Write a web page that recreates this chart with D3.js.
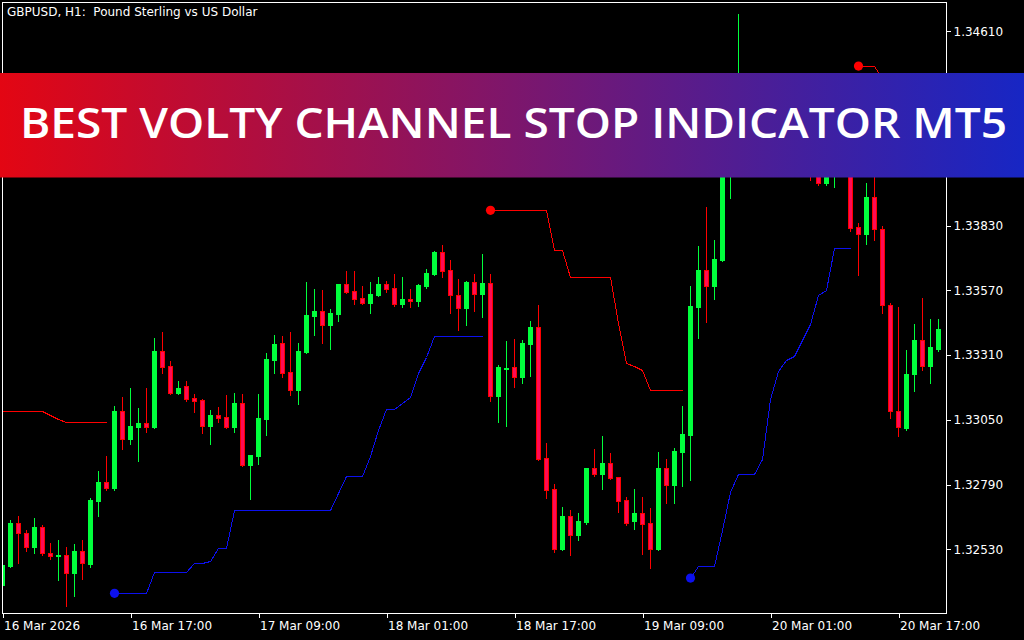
<!DOCTYPE html>
<html><head><meta charset="utf-8">
<script src="https://cdn.jsdelivr.net/npm/d3@7"></script>
<style>
html,body{margin:0;padding:0;background:#000;overflow:hidden}
svg{display:block}
</style></head><body>
<svg id="chart" width="1024" height="640"></svg>
<script>
// ---------------- DATA ----------------
const symbolTitle = "GBPUSD, H1:  Pound Sterling vs US Dollar";
const bannerTitle = "BEST VOLTY CHANNEL STOP INDICATOR MT5";

const opens = [
1.32387,1.32463,1.32636,1.32596,1.32540,1.32620,1.32515,1.32505,1.32507,1.32435,
1.32523,1.32471,1.32724,1.32800,1.32776,1.33085,1.32973,1.33021,1.33037,1.33021,
1.33326,1.33266,1.33158,1.33186,1.33137,1.33129,1.33025,1.33069,1.33061,1.33021,
1.33117,1.32869,1.32905,1.33053,1.33290,1.33358,1.33242,1.33170,1.33322,1.33466,
1.33487,1.33430,1.33474,1.33595,1.33567,1.33539,1.33519,1.33551,1.33595,1.33579,
1.33515,1.33535,1.33527,1.33587,1.33635,1.33723,1.33651,1.33551,1.33499,1.33603,
1.33555,1.33599,1.33145,1.33256,1.33262,1.33222,1.33354,1.33422,1.32897,1.32772,
1.32531,1.32664,1.32588,1.32640,1.32856,1.32832,1.32877,1.32820,1.32728,1.32644,
1.32676,1.32636,1.32531,1.32856,1.32788,1.32921,1.32989,1.33503,1.33651,1.33587,
1.33691,1.34133,1.34253,1.34353,1.34270,1.34330,1.34230,1.34290,1.34380,1.34260,
1.34320,1.34190,1.34093,1.34000,1.34120,1.34250,1.34170,1.33824,1.33796,1.33946,
1.33816,1.33513,1.33085,1.33017,1.33234,1.33370,1.33266,1.33334];
const highs = [
1.32487,1.32648,1.32664,1.32608,1.32656,1.32628,1.32556,1.32568,1.32540,1.32552,
1.32568,1.32736,1.32845,1.32905,1.33105,1.33141,1.33178,1.33097,1.33178,1.33378,
1.33402,1.33286,1.33206,1.33206,1.33154,1.33132,1.33089,1.33101,1.33149,1.33158,
1.33154,1.32911,1.33154,1.33318,1.33390,1.33386,1.33402,1.33358,1.33603,1.33575,
1.33571,1.33495,1.33597,1.33647,1.33647,1.33587,1.33603,1.33623,1.33607,1.33635,
1.33623,1.33575,1.33595,1.33655,1.33727,1.33751,1.33691,1.33615,1.33607,1.33635,
1.33715,1.33635,1.33270,1.33366,1.33374,1.33370,1.33446,1.33511,1.32957,1.32792,
1.32700,1.32688,1.32676,1.32858,1.32933,1.32985,1.32917,1.32822,1.32740,1.32772,
1.32740,1.32696,1.32921,1.32893,1.32937,1.33105,1.33587,1.33747,1.33904,1.33771,
1.34173,1.34333,1.34678,1.34400,1.34380,1.34390,1.34310,1.34420,1.34425,1.34350,
1.34370,1.34260,1.34150,1.34180,1.34300,1.34330,1.34200,1.33840,1.34000,1.34052,
1.33828,1.33519,1.33503,1.33330,1.33434,1.33539,1.33455,1.33455];
const lows = [
1.32367,1.32459,1.32475,1.32523,1.32515,1.32507,1.32491,1.32407,1.32303,1.32343,
1.32411,1.32459,1.32664,1.32768,1.32768,1.32933,1.32953,1.32885,1.33001,1.33017,
1.33238,1.33155,1.33155,1.33125,1.33081,1.32997,1.32953,1.33041,1.33017,1.33001,
1.32864,1.32732,1.32873,1.32989,1.33238,1.33222,1.33150,1.33113,1.33318,1.33390,
1.33358,1.33334,1.33446,1.33559,1.33515,1.33515,1.33478,1.33549,1.33563,1.33507,
1.33503,1.33503,1.33507,1.33579,1.33633,1.33623,1.33478,1.33410,1.33430,1.33487,
1.33462,1.33125,1.33041,1.33025,1.33182,1.33198,1.33226,1.32889,1.32736,1.32519,
1.32527,1.32507,1.32568,1.32632,1.32824,1.32772,1.32812,1.32680,1.32628,1.32612,
1.32511,1.32455,1.32527,1.32716,1.32716,1.32784,1.32808,1.33378,1.33442,1.33535,
1.33687,1.33940,1.34173,1.34230,1.34210,1.34180,1.34170,1.34250,1.34220,1.34160,
1.34150,1.34012,1.33992,1.33994,1.33984,1.34110,1.33810,1.33631,1.33755,1.33772,
1.33477,1.33057,1.32985,1.33009,1.33166,1.33250,1.33198,1.33326];
const closes = [
1.32467,1.32636,1.32596,1.32540,1.32620,1.32515,1.32503,1.32509,1.32435,1.32523,
1.32475,1.32728,1.32800,1.32776,1.33085,1.32973,1.33025,1.33037,1.33021,1.33326,
1.33262,1.33158,1.33178,1.33133,1.33125,1.33025,1.33069,1.33057,1.33021,1.33117,
1.32869,1.32909,1.33057,1.33294,1.33354,1.33238,1.33170,1.33326,1.33470,1.33487,
1.33430,1.33478,1.33595,1.33563,1.33535,1.33519,1.33555,1.33595,1.33575,1.33515,
1.33535,1.33527,1.33591,1.33639,1.33723,1.33647,1.33551,1.33499,1.33603,1.33555,
1.33599,1.33145,1.33262,1.33258,1.33222,1.33358,1.33422,1.32893,1.32768,1.32531,
1.32664,1.32588,1.32644,1.32856,1.32832,1.32877,1.32816,1.32724,1.32636,1.32676,
1.32632,1.32531,1.32856,1.32788,1.32925,1.32993,1.33507,1.33651,1.33587,1.33695,
1.34133,1.34253,1.34353,1.34270,1.34330,1.34230,1.34290,1.34380,1.34260,1.34320,
1.34190,1.34093,1.34000,1.34120,1.34250,1.34170,1.33820,1.33796,1.33944,1.33816,
1.33513,1.33085,1.33021,1.33234,1.33370,1.33266,1.33342,1.33414];

// Volty Channel Stop level per bar
const stopLevel = [
1.33085,1.33085,1.33085,1.33085,1.33085,1.33085,1.33069,1.33053,1.33041,1.33041,
1.33041,1.33041,1.33041,1.33041,1.32354,1.32354,1.32354,1.32354,1.32354,1.32438,
1.32438,1.32438,1.32438,1.32438,1.32474,1.32474,1.32483,1.32534,1.32534,1.32687,
1.32687,1.32687,1.32687,1.32687,1.32687,1.32687,1.32687,1.32687,1.32687,1.32687,
1.32687,1.32687,1.32756,1.32823,1.32823,1.32823,1.32905,1.33009,1.33095,1.33095,
1.33117,1.33141,1.33238,1.33302,1.33385,1.33385,1.33385,1.33385,1.33385,1.33385,
1.33385,1.33891,1.33891,1.33891,1.33891,1.33891,1.33891,1.33891,1.33891,1.33730,
1.33730,1.33622,1.33622,1.33622,1.33622,1.33622,1.33622,1.33438,1.33277,1.33267,
1.33251,1.33170,1.33170,1.33170,1.33170,1.33170,1.32415,1.32465,1.32465,1.32465,
1.32608,1.32760,1.32832,1.32832,1.32832,1.32894,1.33133,1.33246,1.33290,1.33306,
1.33370,1.33434,1.33552,1.33571,1.33741,1.33741,1.33741,1.34470,1.34470,1.34470,
1.34422,1.34333,1.34273,1.34233,1.34193,1.34173,1.34153,1.34133];
// trend segments of the stop line
const segStart = [0, 14, 61, 86, 107];
const segEnd   = [13, 60, 85, 106, 117];
const segSide  = ["down", "up", "down", "up", "down"];
const segDot   = [false, true, true, true, true];

const timeTickBars   = [0, 16, 32, 48, 64, 80, 96, 112];
const timeTickLabels = ["16 Mar 2026","16 Mar 17:00","17 Mar 09:00","18 Mar 01:00",
                        "18 Mar 17:00","19 Mar 09:00","20 Mar 01:00","20 Mar 17:00"];
const priceTicks = [1.32530,1.32790,1.33050,1.33310,1.33570,1.33830,1.34090,1.34350,1.34610];

// ---------------- DRAW ----------------
const svg = d3.select("#chart");
svg.append("rect").attr("width",1024).attr("height",640).attr("fill","#000");

const L = 2.5, R = 946.5, T = 2.5, B = 613.5;
const nBars = opens.length;
const x = d3.scaleLinear().domain([0, 118]).range([2.5, 946.5]);
const y = d3.scaleLinear().domain([1.32275, 1.34723]).range([613, 3]);

const GREEN = "#00ff3c", RED = "#ff0000", REDFILL = "#ff0a55", BLUE = "#0c10ee";

svg.append("defs").append("clipPath").attr("id","plotclip")
  .append("rect").attr("x",3).attr("y",3).attr("width",R-3).attr("height",B-3);

const plot = svg.append("g").attr("clip-path","url(#plotclip)");

// stop lines
const lineGen = d3.line().x(i => x(i)).y(i => Math.round(y(stopLevel[i])) + 0.5);
segStart.forEach((s, j) => {
  const idx = d3.range(s, segEnd[j] + 1);
  plot.append("path").attr("d", lineGen(idx))
    .attr("fill","none").attr("stroke", segSide[j] === "up" ? BLUE : RED)
    .attr("stroke-width",1).attr("shape-rendering","crispEdges");
});
segStart.forEach((s, j) => {
  if (!segDot[j]) return;
  plot.append("circle").attr("cx", x(s)).attr("cy", y(stopLevel[s])).attr("r", 4.6)
    .attr("fill", segSide[j] === "up" ? BLUE : RED);
});

// candles
const bars = d3.range(nBars);
const cg = plot.append("g").attr("shape-rendering","crispEdges");
cg.selectAll("line.wick").data(bars).join("line").attr("class","wick")
  .attr("x1", i => x(i)).attr("x2", i => x(i))
  .attr("y1", i => Math.round(y(highs[i]))).attr("y2", i => Math.round(y(lows[i])) + 1)
  .attr("stroke", i => closes[i] >= opens[i] ? GREEN : RED).attr("stroke-width",1);
bars.forEach(i => {
  const up = closes[i] >= opens[i];
  const top = Math.round(y(Math.max(opens[i], closes[i])));
  const bot = Math.round(y(Math.min(opens[i], closes[i])));
  if (up) {
    cg.append("rect").attr("x", x(i) - 2.5).attr("y", top)
      .attr("width", 5).attr("height", Math.max(1, bot - top + 1)).attr("fill", GREEN);
  } else {
    cg.append("rect").attr("x", x(i) - 2).attr("y", top + 0.5)
      .attr("width", 4).attr("height", Math.max(0, bot - top))
      .attr("fill", REDFILL).attr("stroke", RED).attr("stroke-width",1);
  }
});

// frame
svg.append("path").attr("d", `M${R},${B} L${L},${B} L${L},${T} L${R},${T} Z`)
  .attr("fill","none").attr("stroke","#fff").attr("stroke-width",1)
  .attr("shape-rendering","crispEdges");

// price axis
const yAxis = d3.axisRight(y).tickValues(priceTicks).tickSize(4).tickPadding(3)
  .tickFormat(d3.format(".5f"));
const yg = svg.append("g").attr("transform", `translate(${R},0)`).call(yAxis);
yg.select(".domain").remove();
yg.selectAll("line").attr("stroke","#fff").attr("shape-rendering","crispEdges");
yg.selectAll("text").attr("fill","#fff").style("font-family","'DejaVu Sans'").style("font-size","12px");

// time axis
const xAxis = d3.axisBottom(x).tickValues(timeTickBars).tickSize(4).tickPadding(4)
  .tickFormat((d, i) => timeTickLabels[i]);
const xg = svg.append("g").attr("transform", `translate(0,${B})`).call(xAxis);
xg.select(".domain").remove();
xg.selectAll("line").attr("stroke","#fff").attr("shape-rendering","crispEdges");
xg.selectAll("text").attr("fill","#fff").attr("text-anchor","start").attr("dx", 1)
  .style("font-family","'DejaVu Sans'").style("font-size","12px");

// header
svg.append("text").attr("x", 7).attr("y", 16).attr("fill","#fff")
  .style("white-space","pre")
  .style("font-family","'DejaVu Sans'").style("font-size","12px").text(symbolTitle);

// banner
const grad = svg.select("defs").append("linearGradient").attr("id","bannerGrad")
  .attr("x1","0%").attr("x2","100%").attr("y1","0%").attr("y2","0%");
grad.append("stop").attr("offset","0%").attr("stop-color","#e30613");
grad.append("stop").attr("offset","100%").attr("stop-color","#1726c4");
svg.append("rect").attr("x",0).attr("y",73).attr("width",1024).attr("height",104.5)
  .attr("fill","url(#bannerGrad)");
svg.append("text").attr("x", 20).attr("y", 138).attr("fill","#fff")
  .attr("textLength", 987).attr("lengthAdjust","spacingAndGlyphs")
  .style("font-family","'Open Sans', 'Noto Sans', sans-serif").style("font-weight","600")
  .style("font-size","41px").text(bannerTitle);
</script>
</body></html>
